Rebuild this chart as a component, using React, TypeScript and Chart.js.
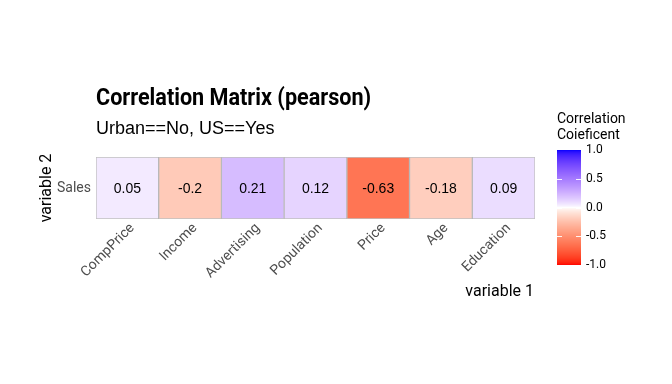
import React, { useEffect, useRef } from "react";
import { Chart, registerables } from "chart.js";

Chart.register(...registerables);

const variables1 = ["CompPrice", "Income", "Advertising", "Population", "Price", "Age", "Education"];
const variables2 = ["Sales"];
const correlations = [0.05, -0.2, 0.21, 0.12, -0.63, -0.18, 0.09];
const legendTicks = [1.0, 0.5, 0.0, -0.5, -1.0];
const titleText = "Correlation Matrix (pearson)";
const subtitleText = "Urban==No, US==Yes";
const xTitle = "variable 1";
const yTitle = "variable 2";
const legendTitle = ["Correlation", "Coieficent"];

// Lab interpolation red - white - blue
function srgbToLin(c: number) {
  c /= 255;
  return c <= 0.04045 ? c / 12.92 : Math.pow((c + 0.055) / 1.055, 2.4);
}
function linToSrgb(c: number) {
  const v = c <= 0.0031308 ? 12.92 * c : 1.055 * Math.pow(c, 1 / 2.4) - 0.055;
  return Math.round(Math.max(0, Math.min(1, v)) * 255);
}
const WX = 0.95047, WY = 1.0, WZ = 1.08883;
function toLab(rgb: number[]) {
  const r = srgbToLin(rgb[0]), g = srgbToLin(rgb[1]), b = srgbToLin(rgb[2]);
  const x = (0.4124 * r + 0.3576 * g + 0.1805 * b) / WX;
  const y = (0.2126 * r + 0.7152 * g + 0.0722 * b) / WY;
  const z = (0.0193 * r + 0.1192 * g + 0.9505 * b) / WZ;
  const f = (t: number) => (t > 216 / 24389 ? Math.cbrt(t) : (24389 / 27 * t + 16) / 116);
  const fx = f(x), fy = f(y), fz = f(z);
  return [116 * fy - 16, 500 * (fx - fy), 200 * (fy - fz)];
}
function fromLab(lab: number[]) {
  const fy = (lab[0] + 16) / 116;
  const fx = fy + lab[1] / 500;
  const fz = fy - lab[2] / 200;
  const inv = (t: number) => (t * t * t > 216 / 24389 ? t * t * t : (116 * t - 16) / (24389 / 27));
  const x = inv(fx) * WX, y = inv(fy) * WY, z = inv(fz) * WZ;
  const r = 3.2406 * x - 1.5372 * y - 0.4986 * z;
  const g = -0.9689 * x + 1.8758 * y + 0.0415 * z;
  const b = 0.0557 * x - 0.204 * y + 1.057 * z;
  return `rgb(${linToSrgb(r)},${linToSrgb(g)},${linToSrgb(b)})`;
}
const LOW = toLab([255, 0, 0]);
const MID = toLab([255, 255, 255]);
const HIGH = toLab([0, 0, 255]);
function corrColor(v: number) {
  const t = Math.pow(Math.min(1, Math.abs(v)), 0.8);
  const end = v < 0 ? LOW : HIGH;
  return fromLab([0, 1, 2].map((i) => MID[i] + (end[i] - MID[i]) * t));
}

const COND = "Roboto, 'Noto Sans', sans-serif";
const ARIAL = "'Liberation Sans', Arial, sans-serif";

const decorPlugin = {
  id: "decor",
  afterDraw(chart: any) {
    const ctx = chart.ctx as CanvasRenderingContext2D;
    const area = chart.chartArea;
    const xs = chart.scales.x;
    const ys = chart.scales.y;
    ctx.save();
    // cell values
    ctx.fillStyle = "#000";
    ctx.font = `14px ${ARIAL}`;
    ctx.textAlign = "center";
    ctx.textBaseline = "middle";
    correlations.forEach((v, i) => {
      ctx.fillText(String(v), xs.getPixelForValue(i), ys.getPixelForValue(0.5) + 1);
    });
    // title
    ctx.textAlign = "left";
    ctx.textBaseline = "alphabetic";
    ctx.save();
    ctx.translate(area.left, 105);
    ctx.scale(0.9, 1);
    ctx.font = `bold 24px ${COND}`;
    ctx.fillText(titleText, 0, 0);
    ctx.restore();
    ctx.font = `18px ${ARIAL}`;
    ctx.fillText(subtitleText, area.left, 134);
    // axis titles
    ctx.font = `16px ${COND}`;
    ctx.textAlign = "right";
    ctx.fillText(xTitle, area.right - 1, 296);
    ctx.save();
    ctx.translate(51, (area.top + area.bottom) / 2);
    ctx.rotate(-Math.PI / 2);
    ctx.textAlign = "center";
    ctx.fillText(yTitle, 0, 0);
    ctx.restore();
    // legend
    const lx = 557, lw = 24, ltop = 150, lbot = 265;
    ctx.font = `14px ${COND}`;
    ctx.textAlign = "left";
    ctx.fillText(legendTitle[0], 557, 123);
    ctx.fillText(legendTitle[1], 557, 139);
    for (let y = ltop; y < lbot; y++) {
      const v = 1 - ((y + 0.5 - ltop) / (lbot - ltop)) * 2;
      ctx.fillStyle = corrColor(v);
      ctx.fillRect(lx, y, lw, 1);
    }
    ctx.font = `12px ${COND}`;
    ctx.textBaseline = "middle";
    legendTicks.forEach((t) => {
      const y = ltop + ((1 - t) / 2) * (lbot - ltop);
      if (t !== 1 && t !== -1) {
        ctx.strokeStyle = "rgba(255,255,255,0.9)";
        ctx.lineWidth = 1;
        ctx.beginPath();
        ctx.moveTo(lx, Math.round(y) + 0.5);
        ctx.lineTo(lx + 5, Math.round(y) + 0.5);
        ctx.moveTo(lx + lw - 5, Math.round(y) + 0.5);
        ctx.lineTo(lx + lw, Math.round(y) + 0.5);
        ctx.stroke();
      }
      ctx.fillStyle = "#000";
      ctx.fillText(t.toFixed(1), lx + lw + 5, y);
    });
    ctx.restore();
  },
};

export default function App() {
  const ref = useRef<HTMLCanvasElement>(null);
  useEffect(() => {
    document.body.style.margin = "0";
    const chart = new Chart(ref.current!, {
      type: "bar",
      data: {
        labels: variables1,
        datasets: [
          {
            label: variables2[0],
            data: correlations.map(() => [0, 1]) as any,
            backgroundColor: correlations.map(corrColor),
            borderColor: "rgba(150,150,150,0.6)",
            borderWidth: 1,
            borderSkipped: false,
            barPercentage: 1,
            categoryPercentage: 1,
          },
        ],
      },
      options: {
        animation: false,
        responsive: false,
        layout: { padding: { left: 0, top: 157, right: 137, bottom: 0 } },
        plugins: { legend: { display: false }, tooltip: { enabled: false } },
        scales: {
          x: {
            type: "category",
            grid: { display: false, drawTicks: false },
            border: { display: false },
            ticks: {
              color: "#4D4D4D",
              font: { family: COND, size: 14 },
              minRotation: 45,
              maxRotation: 45,
              padding: 1,
              labelOffset: 5,
            },
            afterFit: (s: any) => {
              s.height = 165;
            },
          },
          y: {
            type: "linear",
            min: 0,
            max: 1,
            grid: { display: false, drawTicks: false },
            border: { display: false },
            afterBuildTicks: (s: any) => {
              s.ticks = [{ value: 0.5 }];
            },
            ticks: {
              color: "#4D4D4D",
              font: { family: COND, size: 14 },
              padding: 5,
              callback: () => variables2[0],
            },
            afterFit: (s: any) => {
              s.width = 96;
            },
          },
        },
      },
      plugins: [decorPlugin],
    });
    return () => chart.destroy();
  }, []);
  return <canvas ref={ref} width={672} height={384} style={{ display: "block" }} />;
}
